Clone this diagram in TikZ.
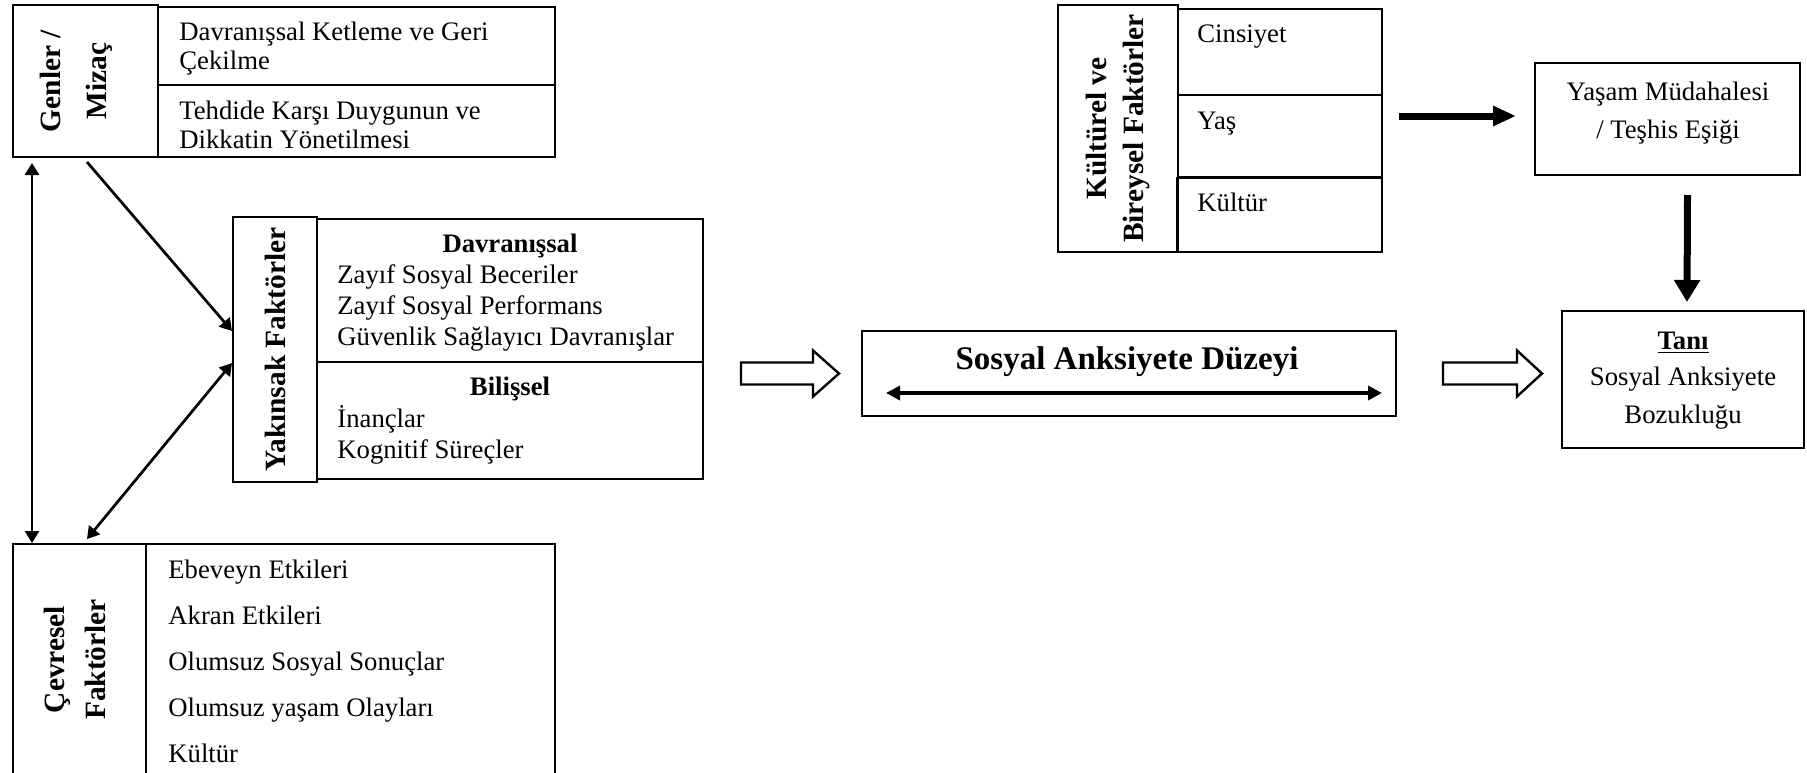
\documentclass[tikz,border=0pt]{standalone}
\usepackage{fontspec}
\setmainfont{Liberation Serif}
\usetikzlibrary{arrows.meta,calc}

\tikzset{
  box/.style={draw, line width=1pt, inner sep=0pt, outer sep=0pt, anchor=north west},
  txt/.style={inner sep=0pt, anchor=base west, font=\fontsize{13.35}{15}\selectfont},
  ctxt/.style={inner sep=0pt, anchor=base, font=\fontsize{13.35}{15}\selectfont},
  hd/.style={inner sep=0pt, anchor=base, font=\fontsize{13.35}{15}\selectfont\bfseries},
  vlbl/.style={inner sep=0pt, rotate=90, align=center},
  thinar/.style={line width=1.35pt},
  thickar/.style={line width=3.5pt},
  hollow/.style={draw, line width=1.2pt, fill=white, line join=miter},
  >={Triangle[length=6pt,width=7pt]}
}

\begin{document}
\begin{tikzpicture}[x=0.5pt,y=0.5pt,yscale=-1,xscale=1]
\useasboundingbox (0,0) rectangle (1807,772);

%Shape: Genler / Mizac
\node[box, minimum width=72.5pt, minimum height=76pt] (genL) at (13,5) {};
\node[box, minimum width=198.5pt, minimum height=39pt] (genA) at (158,7) {};
\node[box, minimum width=198.5pt, minimum height=36pt] (genB) at (158,85) {};
% Text Node
\node[vlbl, font=\fontsize{14.7}{23}\selectfont\bfseries] (genT) at ($(genL.center)+(-9,0)$) {Genler /\\Mizaç};
\node[txt] (genA1) at (179,40) {Davranışsal Ketleme ve Geri};
\node[txt] (genA2) at (179,69) {Çekilme};
\node[txt] (genB1) at (179,119) {Tehdide Karşı Duygunun ve};
\node[txt] (genB2) at (179,148) {Dikkatin Yönetilmesi};

%Shape: Yakinsak Faktorler
\node[box, minimum width=42pt, minimum height=132.5pt] (yakL) at (233,217) {};
\node[box, minimum width=193pt, minimum height=71.5pt] (yakA) at (317,219) {};
\node[box, minimum width=193pt, minimum height=58.5pt] (yakB) at (317,362) {};
% Text Node
\node[vlbl, font=\fontsize{14.7}{23}\selectfont\bfseries] (yakT) at (yakL.center) {Yakınsak Faktörler};
\node[hd] (yakA0) at (510,252) {Davranışsal};
\node[txt] (yakA1) at (337,283) {Zayıf Sosyal Beceriler};
\node[txt] (yakA2) at (337,314) {Zayıf Sosyal Performans};
\node[txt] (yakA3) at (337,345) {Güvenlik Sağlayıcı Davranışlar};
\node[hd] (yakB0) at (510,395) {Bilişsel};
\node[txt] (yakB1) at (337,427) {İnançlar};
\node[txt] (yakB2) at (337,458) {Kognitif Süreçler};

%Shape: Cevresel Faktorler
\node[box, minimum width=66.5pt, minimum height=115.5pt] (cevL) at (13,544) {};
\node[box, minimum width=204.5pt, minimum height=115.5pt] (cevA) at (146,544) {};
% Text Node
\node[vlbl, font=\fontsize{14.7}{20.5}\selectfont\bfseries] (cevT) at ($(cevL.center)+(-5,0)$) {Çevresel\\Faktörler};
\node[txt] (cev1) at (168,578) {Ebeveyn Etkileri};
\node[txt] (cev2) at (168,624) {Akran Etkileri};
\node[txt] (cev3) at (168,670) {Olumsuz Sosyal Sonuçlar};
\node[txt] (cev4) at (168,716) {Olumsuz yaşam Olayları};
\node[txt] (cev5) at (168,762) {Kültür};

%Shape: Kulturel ve Bireysel Faktorler
\node[box, minimum width=60pt, minimum height=123.5pt] (kulL) at (1058,5) {};
\node[box, minimum width=102pt, minimum height=43pt] (kulA) at (1178,9) {};
\node[box, minimum width=102pt, minimum height=41pt] (kulB) at (1178,95) {};
\node[box, minimum width=102.5pt, minimum height=37pt] (kulC) at (1177,178) {};
% Text Node
\node[vlbl, font=\fontsize{14.7}{18.5}\selectfont\bfseries] (kulT) at (kulL.center) {Kültürel ve\\Bireysel Faktörler};
\node[txt] (kulA1) at (1197,42) {Cinsiyet};
\node[txt] (kulB1) at (1197,129) {Yaş};
\node[txt] (kulC1) at (1197,211) {Kültür};

%Shape: Yasam Mudahalesi
\node[box, minimum width=132.5pt, minimum height=56pt] (yas) at (1535,63) {};
% Text Node
\node[ctxt] (yas1) at (1668,100) {Yaşam Müdahalesi};
\node[ctxt] (yas2) at (1668,138) {/ Teşhis Eşiği};

%Shape: Sosyal Anksiyete Duzeyi
\node[box, minimum width=267pt, minimum height=42.5pt] (sad) at (862,331) {};
% Text Node
\node[inner sep=0pt, anchor=base, font=\fontsize{16.5}{18}\selectfont\bfseries] (sadT) at (1127,369) {Sosyal Anksiyete Düzeyi};

%Shape: Tani
\node[box, minimum width=121pt, minimum height=68.5pt] (tani) at (1562,311) {};
% Text Node
\node[hd] (tani0) at (1683,349) {\underline{Tanı}};
\node[ctxt] (tani1) at (1683,385) {Sosyal Anksiyete};
\node[ctxt] (tani2) at (1683,423) {Bozukluğu};

%Straight Lines
\draw[thinar, <->] ($(genL.south west)+(19,6)$) -- ($(cevL.north west)+(19,-1)$);
\draw[thinar, ->] ($(genL.south west)+(74,5)$) -- ($(yakL.north west)+(-1,114)$);
\draw[thinar, <->] ($(yakL.north west)+(-1,146)$) -- ($(cevL.north west)+(74,-5)$);
\draw[line width=2pt, {Triangle[length=7pt,width=7pt]}-{Triangle[length=7pt,width=7pt]}] ($(sad.south west)+(24,-23)$) -- ($(sad.south east)+(-14,-23)$);
\draw[thickar, -{Triangle[length=11.5pt,width=9.5pt]}] ($(kulB.north east)+(17,21)$) -- ($(yas.west)+(-19,-3)$);
\draw[thickar, -{Triangle[length=11pt,width=12.5pt]}] ($(yas.south)+(20,20)$) -- ($(tani.north)+(4,-9)$);

%Shape: Right Arrow
\draw[hollow, shift={($(sad.west)+(-121,0)$)}] (0,-11) -- (72,-11) -- (72,-23) -- (98,0) -- (72,23) -- (72,11) -- (0,11) -- cycle;
\draw[hollow, shift={($(sad.east)+(47,0)$)}] (0,-11) -- (74,-11) -- (74,-23) -- (99,0) -- (74,23) -- (74,11) -- (0,11) -- cycle;

\end{tikzpicture}
\end{document}
